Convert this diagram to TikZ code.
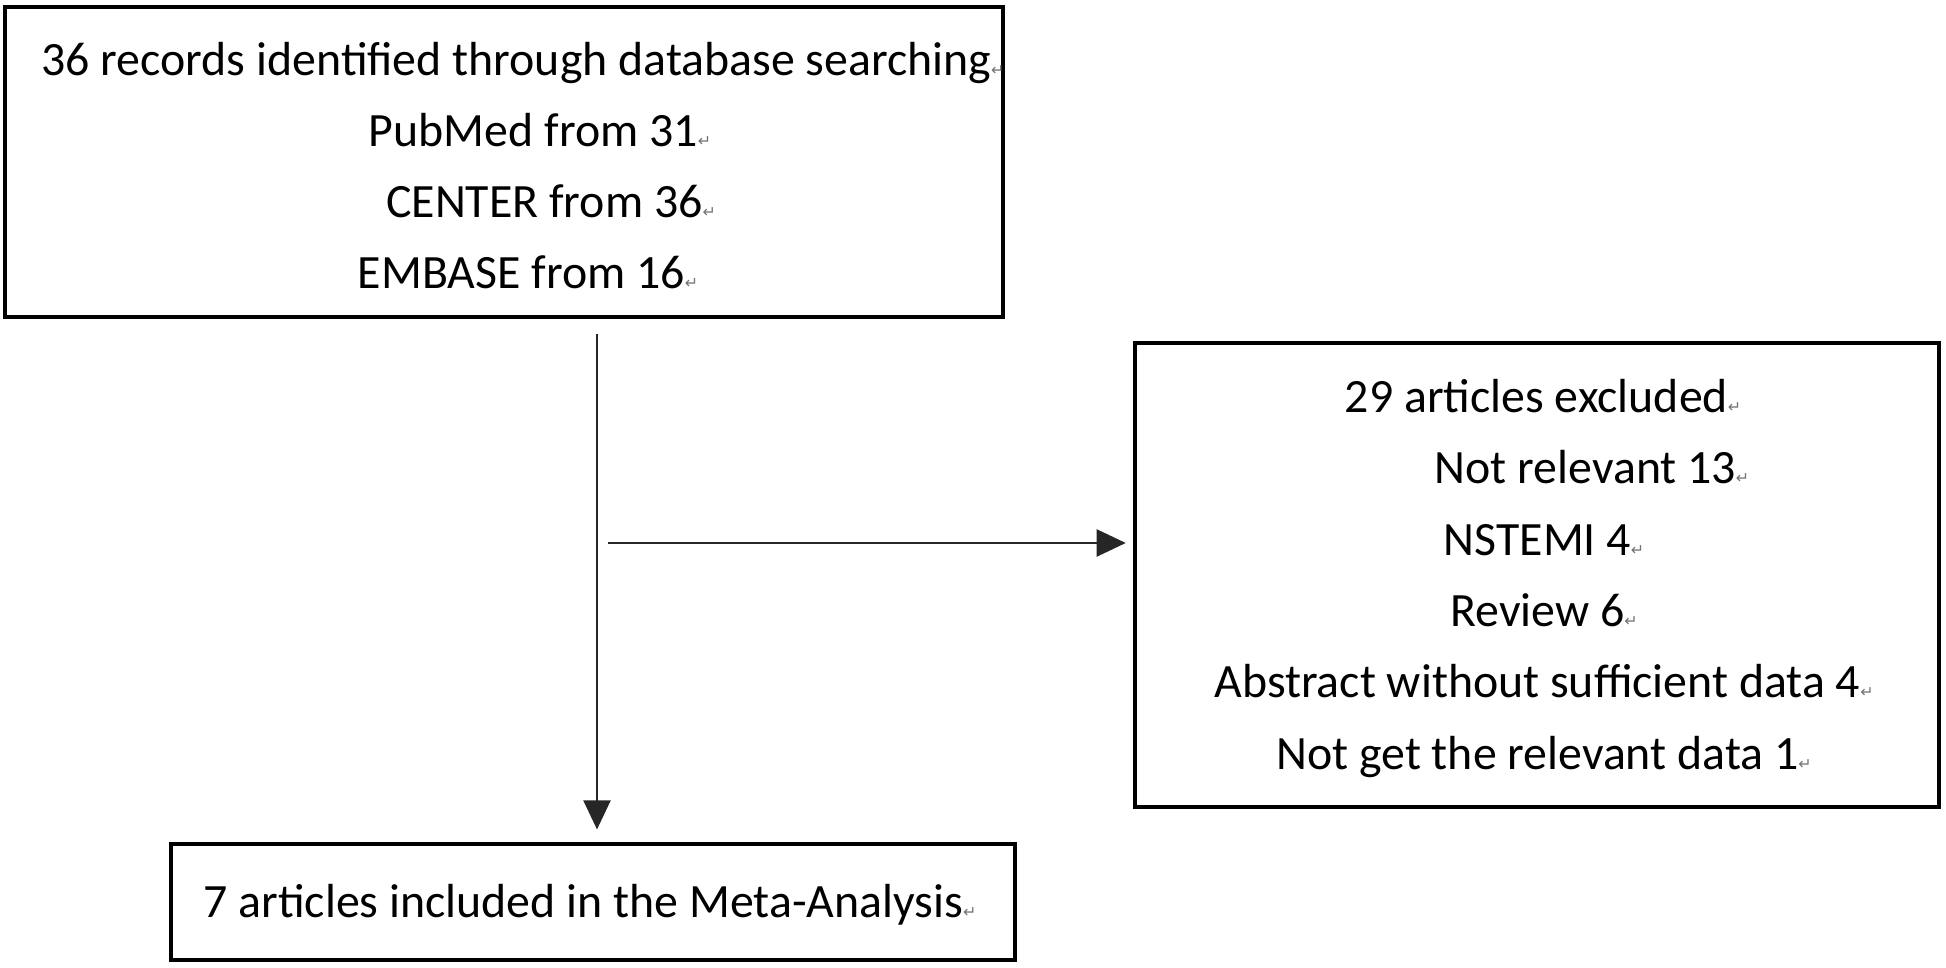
\documentclass[tikz,border=0pt]{standalone}
\usepackage{fontspec}
\setmainfont{Carlito}
\newfontfamily\markfont{DejaVu Sans}
\usepackage{xcolor}
\usepackage{tikz}
\usetikzlibrary{arrows.meta,positioning}

% Word paragraph mark after each line
\newcommand{\ret}{{\markfont\fontsize{4.5}{5}\selectfont\color{black!55}↵}}

\begin{document}
\begin{tikzpicture}[
    x=0.01cm, y=-0.01cm,
    box/.style={draw, line width=1.15pt, inner sep=0pt},
    entry/.style={anchor=base, inner sep=0pt, font=\fontsize{13.6}{16}\selectfont},
    flow/.style={line width=0.6pt, black!85, -{Triangle[length=2.9mm,width=2.7mm]}},
]
\useasboundingbox (0,0) rectangle (1946,968);

% Search box
\node[box, minimum width=9.98cm, minimum height=3.10cm] (search) at (504,162) {};
\node[entry] (total) at (523,76) {36 records identified through database searching\ret};
\node[entry] (pubmed) at (540,147) {PubMed from 31\ret};
\node[entry] (center) at (551,218) {CENTER from 36\ret};
\node[entry] (embase) at (528,289) {EMBASE from 16\ret};

% Excluded box
\node[box, minimum width=8.04cm, minimum height=4.64cm] (excluded) at (1537,575) {};
\node[entry] (excl) at (1543,413) {29 articles excluded\ret};
\node[entry] (notrel) at (1592,484) {Not relevant 13\ret};
\node[entry] (nstemi) at (1544,556) {NSTEMI 4\ret};
\node[entry] (review) at (1544,627) {Review 6\ret};
\node[entry] (abstract) at (1544,698) {Abstract without sufficient data 4\ret};
\node[entry] (nodata) at (1544,770) {Not get the relevant data 1\ret};

% Included box
\node[box, minimum width=8.44cm, minimum height=1.15cm] (included) at (593,902) {};
\node[entry] (incl) at (590,918) {7 articles included in the Meta-Analysis\ret};

% Connectors
\coordinate (branch) at (608,543);
\draw[flow, shorten <=0.15cm, shorten >=0.13cm]
    ([xshift=0.04cm]search.south -| included.north) -- ([xshift=0.04cm]included.north);
\draw[flow, shorten >=0.07cm] (branch) -- (branch -| excluded.west);

\end{tikzpicture}
\end{document}
